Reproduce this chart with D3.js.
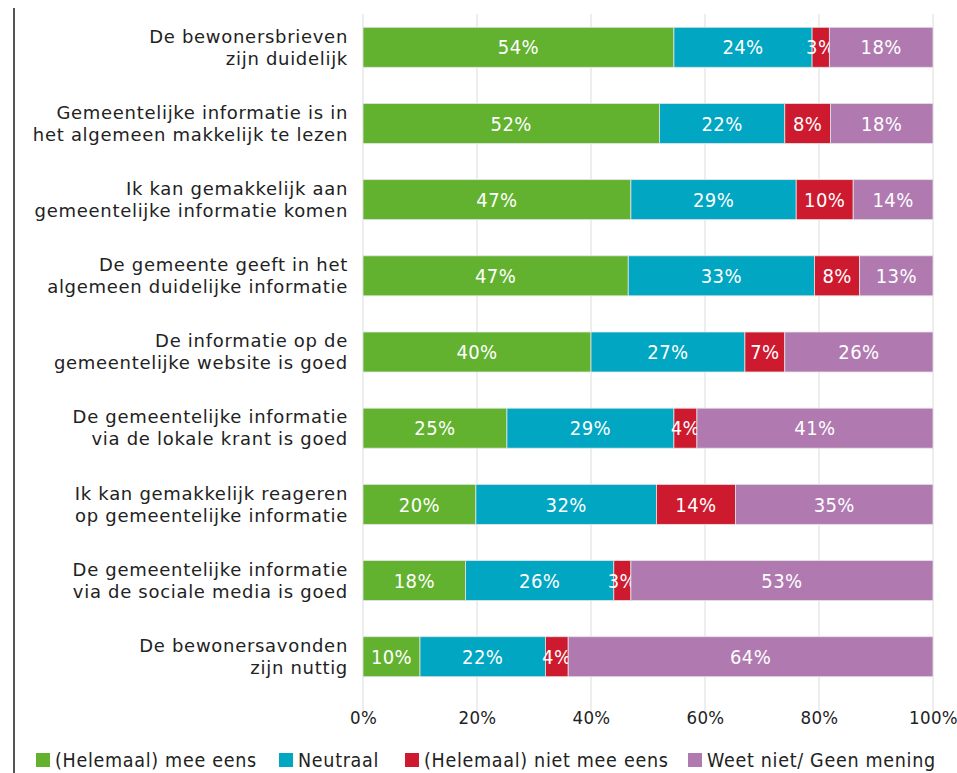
<!DOCTYPE html>
<html>
<head>
<meta charset="utf-8">
<script src="https://cdn.jsdelivr.net/npm/d3@7"></script>
<style>
  body { margin: 0; background: #fff; }
  svg { display: block; }
</style>
</head>
<body>
<script>
// statements, top to bottom (two lines each)
const categories = [
  ["De bewonersbrieven", "zijn duidelijk"],
  ["Gemeentelijke informatie is in", "het algemeen makkelijk te lezen"],
  ["Ik kan gemakkelijk aan", "gemeentelijke informatie komen"],
  ["De gemeente geeft in het", "algemeen duidelijke informatie"],
  ["De informatie op de", "gemeentelijke website is goed"],
  ["De gemeentelijke informatie", "via de lokale krant is goed"],
  ["Ik kan gemakkelijk reageren", "op gemeentelijke informatie"],
  ["De gemeentelijke informatie", "via de sociale media is goed"],
  ["De bewonersavonden", "zijn nuttig"]
]

const seriesNames = ["(Helemaal) mee eens", "Neutraal", "(Helemaal) niet mee eens", "Weet niet/ Geen mening"]
const colors = ["#62b22f", "#00a6c2", "#ce1a2e", "#b07ab1"]

const meeEens    = [54, 52, 47, 47, 40, 25, 20, 18, 10]
const neutraal   = [24, 22, 29, 33, 27, 29, 32, 26, 22]
const nietEens   = [3, 8, 10, 8, 7, 4, 14, 3, 4]
const weetNiet   = [18, 18, 14, 13, 26, 41, 35, 53, 64]

const tickValues = [0, 0.2, 0.4, 0.6, 0.8, 1]

const width = 957, height = 773
const left = 363, right = 933

const rows = categories.map((c, i) => ({
  key: i,
  s0: meeEens[i], s1: neutraal[i], s2: nietEens[i], s3: weetNiet[i]
}))

// rows don't always add up to 100 (rounding), so expand them to full width
const stack = d3.stack()
  .keys(["s0", "s1", "s2", "s3"])
  .offset(d3.stackOffsetExpand)
const stacked = stack(rows)

const x = d3.scaleLinear().domain([0, 1]).range([left, right])
const y = d3.scaleBand().domain(d3.range(categories.length)).range([9, 695]).paddingInner(0.475).paddingOuter(0.24)

const svg = d3.select("body").append("svg")
  .attr("width", width)
  .attr("height", height)

const fontMain = "'DejaVu Sans', sans-serif"
const fontNum = "'DejaVu Sans Condensed', 'Liberation Sans Narrow', 'DejaVu Sans', sans-serif"

// left rule
svg.append("line")
  .attr("x1", 14).attr("x2", 14)
  .attr("y1", 8).attr("y2", height)
  .attr("stroke", "#555").attr("stroke-width", 2)

// gridlines
svg.append("g")
  .selectAll("line")
  .data(tickValues)
  .join("line")
  .attr("x1", d => x(d)).attr("x2", d => x(d))
  .attr("y1", 14).attr("y2", 713)
  .attr("stroke", "#dcdcdc").attr("stroke-width", 1)

// x axis labels
const xAxis = d3.axisBottom(x)
  .tickValues(tickValues)
  .tickFormat(d3.format(".0%"))
  .tickSize(0)
  .tickPadding(0)

const gx = svg.append("g")
  .attr("transform", "translate(0,711)")
  .call(xAxis)
gx.select(".domain").remove()
gx.selectAll("text")
  .attr("font-family", fontNum)
  .attr("font-size", 18.5)
  .attr("letter-spacing", 0.3)
  .attr("fill", "#222")

// bars
const layers = svg.append("g")
  .selectAll("g")
  .data(stacked)
  .join("g")
  .attr("fill", (d, i) => colors[i])

layers.selectAll("rect")
  .data(d => d)
  .join("rect")
  .attr("x", d => x(d[0]))
  .attr("y", (d, i) => y(i))
  .attr("width", d => x(d[1]) - x(d[0]))
  .attr("height", y.bandwidth())
  .attr("stroke", "#e4e4e4")
  .attr("stroke-width", 0.8)

// value labels
layers.selectAll("text")
  .data(d => d.map(v => ({ v, key: d.key })))
  .join("text")
  .attr("x", d => (x(d.v[0]) + x(d.v[1])) / 2)
  .attr("y", (d, i) => y(i) + y.bandwidth() / 2)
  .attr("dy", "0.36em")
  .attr("text-anchor", "middle")
  .attr("fill", "#fff")
  .attr("font-family", fontNum)
  .attr("font-size", 20)
  .attr("letter-spacing", 0.4)
  .text(d => d.v.data[d.key] + "%")

// category labels
const cat = svg.append("g")
  .selectAll("text")
  .data(categories)
  .join("text")
  .attr("text-anchor", "end")
  .attr("font-family", fontMain)
  .attr("font-size", 18)
  .attr("letter-spacing", 0.7)
  .attr("fill", "#222")

cat.selectAll("tspan")
  .data((d, i) => d.map((line, j) => ({ line, j, i })))
  .join("tspan")
  .attr("x", 348)
  .attr("y", d => y(d.i) + y.bandwidth() / 2 + (d.j === 0 ? -11 : 11))
  .attr("dy", "0.35em")
  .text(d => d.line)

// legend
const legendX = [36, 279, 405, 688]
const legend = svg.append("g")
  .selectAll("g")
  .data(seriesNames)
  .join("g")
  .attr("transform", (d, i) => `translate(${legendX[i]},753)`)

legend.append("rect")
  .attr("width", 14).attr("height", 14)
  .attr("fill", (d, i) => colors[i])

legend.append("text")
  .attr("x", 19)
  .attr("y", 7)
  .attr("dy", "0.35em")
  .attr("font-family", fontNum)
  .attr("font-size", 19.5)
  .attr("letter-spacing", 0.7)
  .attr("fill", "#222")
  .text(d => d)
</script>
</body>
</html>
